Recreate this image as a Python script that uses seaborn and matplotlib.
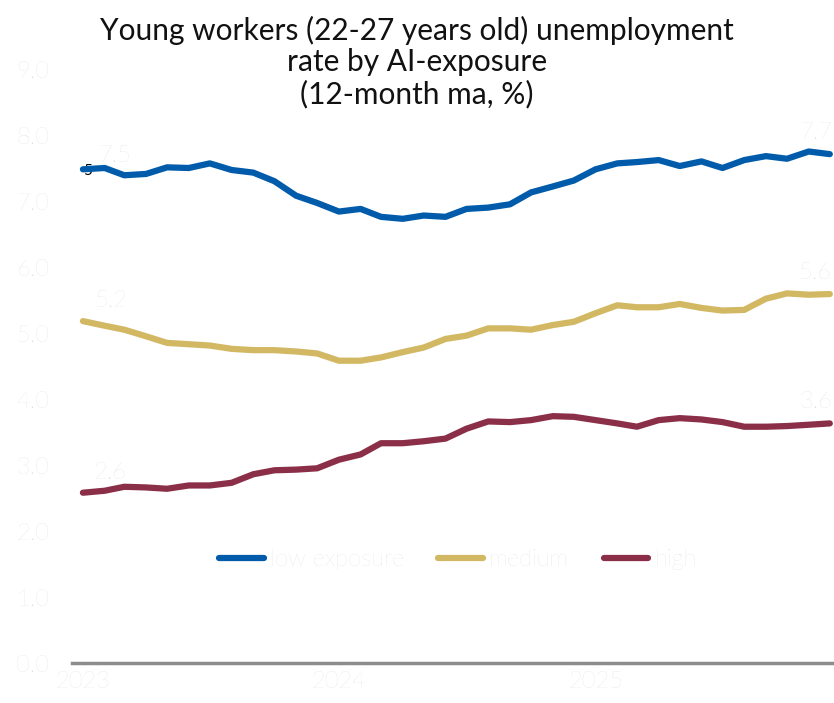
import matplotlib
matplotlib.use("Agg")
import matplotlib.pyplot as plt
import seaborn as sns
import pandas as pd
import numpy as np
from matplotlib.lines import Line2D

months = pd.date_range("2023-01-01", periods=36, freq="MS")
low_exposure = [7.48, 7.50, 7.39, 7.41, 7.51, 7.50, 7.57, 7.47, 7.43, 7.30, 7.08, 6.97,
                6.84, 6.88, 6.76, 6.73, 6.78, 6.76, 6.88, 6.90, 6.95, 7.13, 7.22, 7.31,
                7.48, 7.57, 7.59, 7.62, 7.53, 7.60, 7.50, 7.62, 7.68, 7.64, 7.75, 7.71]
medium = [5.18, 5.11, 5.05, 4.95, 4.85, 4.83, 4.81, 4.76, 4.74, 4.74, 4.72, 4.69,
          4.58, 4.58, 4.63, 4.71, 4.78, 4.91, 4.96, 5.07, 5.07, 5.05, 5.12, 5.17,
          5.30, 5.42, 5.39, 5.39, 5.44, 5.38, 5.34, 5.35, 5.52, 5.60, 5.58, 5.59]
high = [2.58, 2.61, 2.67, 2.66, 2.64, 2.69, 2.69, 2.73, 2.86, 2.92, 2.93, 2.95,
        3.08, 3.16, 3.33, 3.33, 3.36, 3.40, 3.55, 3.66, 3.65, 3.68, 3.74, 3.73,
        3.68, 3.63, 3.58, 3.68, 3.71, 3.69, 3.65, 3.58, 3.58, 3.59, 3.61, 3.63]
series_names = ["low exposure", "medium", "high"]
colors = ["#005BAA", "#D2B863", "#8B2F48"]
y_ticks = [0, 1, 2, 3, 4, 5, 6, 7, 8, 9]
x_ticks = ["2023", "2024", "2025"]
title = "Young workers (22-27 years old) unemployment\nrate by AI-exposure\n(12-month ma, %)"

df = pd.concat([
    pd.DataFrame({"month": months, "rate": vals, "series": name})
    for name, vals in zip(series_names, [low_exposure, medium, high])
])

sns.set_theme(style="white")
plt.rcParams["font.family"] = ["Lato", "DejaVu Sans"]

LIGHT = "#dcdcdc"
PX = 0.72  # points per pixel at dpi 100
fig = plt.figure(figsize=(8.34, 7.03), dpi=100)
ax = fig.add_axes([71.7 / 834, 40 / 703, 1 - 71.7 / 834, 594 / 703])

sns.lineplot(data=df, x="month", y="rate", hue="series", hue_order=series_names,
             palette=colors, linewidth=4.5, ax=ax, legend=False,
             solid_capstyle="round", solid_joinstyle="round", zorder=3)

ax.set_ylim(0, 9)
ax.set_xlim(months[0] - pd.Timedelta(days=16), months[-1] + pd.Timedelta(days=6))
ax.set_yticks(y_ticks)
ax.set_yticklabels([f"{v:.1f}" for v in y_ticks], color=LIGHT, fontsize=17, fontweight="light")
ax.set_xticks([pd.Timestamp(f"{y}-01-01") for y in x_ticks])
ax.set_xticklabels(x_ticks, color=LIGHT, fontsize=17, fontweight="light")
ax.tick_params(axis="y", length=0, pad=16)
ax.tick_params(axis="x", length=0, pad=6)
ax.set_xlabel("")
ax.set_ylabel("")
for s in ["top", "right", "left"]:
    ax.spines[s].set_visible(False)
ax.spines["bottom"].set_color("#8c8c8c")
ax.spines["bottom"].set_linewidth(2.5)
ax.grid(False)
ax.patch.set_alpha(0)

# data labels
start_offsets = [(32, 14), (29, 21), (27, 20)]
for vals, off in zip([low_exposure, medium, high], start_offsets):
    ax.annotate(f"{vals[0]:.1f}", xy=(months[0], vals[0]), xytext=(off[0] * PX, off[1] * PX),
                textcoords="offset points", ha="center", va="center",
                color=LIGHT, fontsize=17, fontweight="light", zorder=2)
    ax.annotate(f"{vals[-1]:.1f}", xy=(months[-1], vals[-1]), xytext=(-14 * PX, 22 * PX),
                textcoords="offset points", ha="center", va="center",
                color=LIGHT, fontsize=17, fontweight="light", zorder=2)

# stray black glyph partly hidden behind the first point
ax.annotate("5", xy=(months[0], low_exposure[0]), xytext=(0, 4), textcoords="offset points",
            ha="left", va="top", color="black", fontsize=11, zorder=1)

# legend
handles = [Line2D([0], [0], color=c, linewidth=4.5, solid_capstyle="round") for c in colors]
leg = ax.legend(handles, series_names, loc="center", bbox_to_anchor=(458 / 834, (703 - 560) / 703),
                bbox_transform=fig.transFigure, ncol=3, frameon=False,
                handlelength=1.9, handletextpad=0.25, columnspacing=1.45,
                prop={"family": ["Lato", "DejaVu Sans"], "size": 17, "weight": "light"})
for t in leg.get_texts():
    t.set_color(LIGHT)

fig.text(417 / 834, 1 - 62 / 703, title, ha="center", va="center", fontsize=21.5,
         color="#111111", linespacing=1.15, fontweight="normal")

fig.savefig("out.png", dpi=100)
